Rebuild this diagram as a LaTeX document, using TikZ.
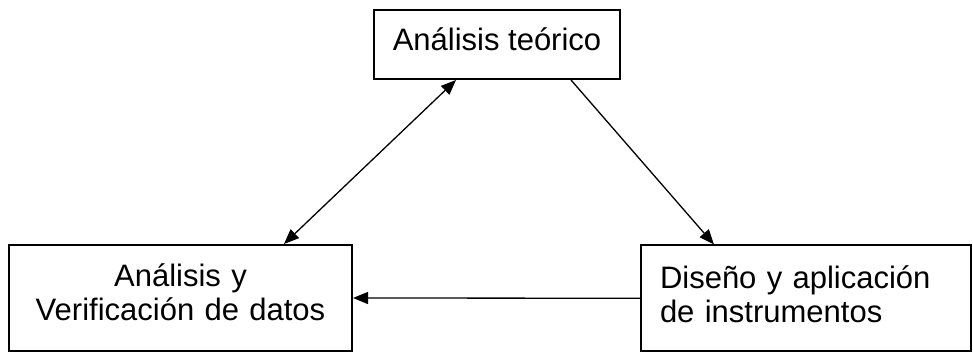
\documentclass[tikz,border=0pt]{standalone}
\usepackage{fontspec}
\setmainfont{Liberation Sans}
\usetikzlibrary{arrows.meta}
\begin{document}
\begin{tikzpicture}[x=1pt,y=-1pt,
  box/.style={draw, line width=2pt, inner ysep=0pt, font=\fontsize{31}{34}\selectfont},
  link/.style={line width=1.3pt, -{Triangle[length=15pt,width=12pt]}},
  duallink/.style={line width=1.3pt, {Triangle[length=15pt,width=12pt]}-{Triangle[length=15pt,width=12pt]}}]
\useasboundingbox (0,0) rectangle (973,352);
% the three stages
\node[box, inner xsep=0pt, minimum width=246pt, minimum height=69pt, text height=22pt, text depth=9pt]
  (theory) at (497,44.5) {Análisis teórico};
\node[box, inner xsep=0pt, text width=343pt, minimum height=106pt, align=center,
      text height=24pt, text depth=46pt]
  (check) at (180.5,298) {Análisis y\\Verificación de datos};
\node[box, inner xsep=19pt, text width=292pt, minimum height=105.5pt, align=left,
      text height=24pt, text depth=44.5pt]
  (design) at (806,298.25) {Diseño y aplicación\\de instrumentos};
% connectors
\draw[duallink] ([xshift=83pt]theory.south west) -- ([xshift=276pt]check.north west);
\draw[link] ([xshift=198pt]theory.south west) -- ([xshift=74pt]design.north west);
\draw[link] (design.west) -- (check.east);
\end{tikzpicture}
\end{document}
